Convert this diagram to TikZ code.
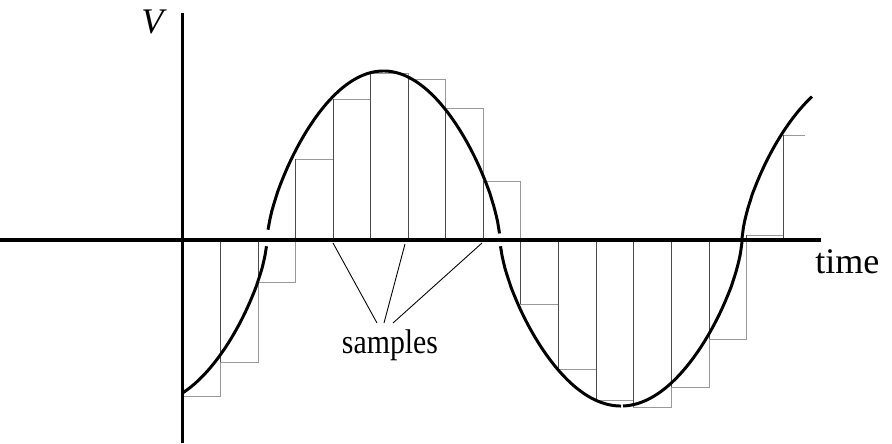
\documentclass[tikz,border=0pt]{standalone}
\usepackage{fontspec}
\setmainfont{Liberation Serif}
\begin{document}
\begin{tikzpicture}[x=0.02cm,y=-0.02cm,
  axisline/.style={line width=1.8pt},
  wave/.style={line width=1.7pt, line join=round},
  sampleline/.style={line width=0.55pt, draw=black!70},
  holdline/.style={line width=0.55pt, draw=black!40},
  pointer/.style={line width=0.5pt},
  lbl/.style={font=\fontsize{20.5}{24}\selectfont, inner sep=0pt}]
\useasboundingbox (0,0) rectangle (892,443);
% hold steps
\foreach \xa/\ya/\xb in {182/396/220, 220/362/258, 258/282/295, 295/159/333,
  333/99/370, 370/73/408, 408/79/445, 445/108/483, 483/181/520, 520/304/558,
  558/369/596, 596/400/633, 633/407/671, 671/387/709, 709/339/746, 746/235/783}
  \draw[holdline] (\xa,\ya) -- (\xb,\ya) -- (\xb,240);
\draw[holdline] (783,135) -- (805,135);
% sample lines
\foreach \xa/\ya in {220/362, 258/282, 295/159, 333/99, 370/73, 408/79, 445/108,
  483/181, 520/304, 558/369, 596/400, 633/407, 671/387, 709/339, 746/235, 783/135}
  \draw[sampleline] (\xa,240) -- (\xa,\ya);
% axes
\coordinate (xs) at (0,240);
\coordinate (xe) at (821,240);
\coordinate (ys) at (182.5,13);
\coordinate (ye) at (182.5,443);
\draw[axisline] (xs) -- (xe);
\draw[axisline] (ys) -- (ye);
% wave
\draw[wave] plot[domain=182:266.5, samples=60] (\x, {240+164*exp(0.65*ln(max(sin((267-\x)/238*180),0.001)))});
\draw[wave] plot[domain=268:499.5, samples=120] (\x, {240-169*exp(0.65*ln(max(sin((\x-267)/233*180),0.001)))});
\draw[wave] plot[domain=500.5:621, samples=80] (\x, {240+166*exp(0.65*ln(max(sin((\x-500)/242*180),0.001)))});
\draw[wave] plot[domain=623:742, samples=80] (\x, {240+166*exp(0.65*ln(max(sin((\x-500)/242*180),0.001)))})
  -- plot[domain=742:812, samples=50] (\x, {240-166*exp(0.65*ln(max(sin((\x-742)/238*180),0.001)))});
% labels
\node[lbl, anchor=base] (vlab) at (154,33) {\textit{V}};
\node[lbl, anchor=base west] (tlab) at (815,273) {time};
\node[lbl, font=\fontsize{19.5}{23}\selectfont, xscale=0.87, anchor=base] (slab) at (390,353) {samples};
\coordinate (p1) at (333,243);
\coordinate (p2) at (405,244);
\coordinate (p3) at (482,243);
\coordinate (q1) at (377,323);
\coordinate (q2) at (384,323);
\coordinate (q3) at (393,323);
\draw[pointer] (p1) -- (q1);
\draw[pointer] (p2) -- (q2);
\draw[pointer] (p3) -- (q3);
\end{tikzpicture}
\end{document}
